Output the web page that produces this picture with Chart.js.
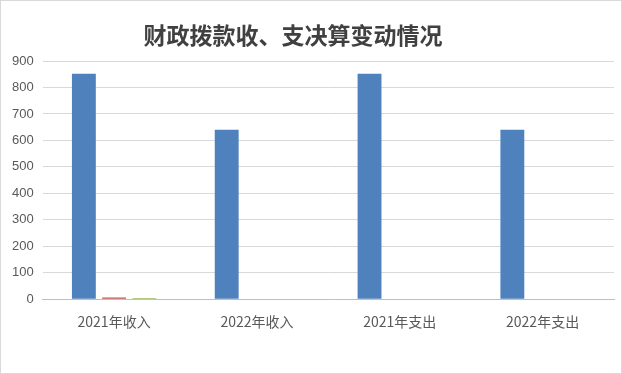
<!DOCTYPE html>
<html>
<head>
<meta charset="utf-8">
<script src="https://cdn.jsdelivr.net/npm/chart.js@4"></script>
<style>
  html, body { margin: 0; padding: 0; background: #fff; }
  #wrap { position: relative; width: 620px; height: 372px; border: 1px solid #d9d9d9; }
</style>
</head>
<body>
<div id="wrap"><canvas id="chart"></canvas></div>
<script>
const categories = ['2021年收入', '2022年收入', '2021年支出', '2022年支出'];
const seriesA = [852, 640, 852, 640];
const seriesB = [6, 0, 0, 0];
const seriesC = [5, 0, 0, 0];
const yTicks = [0, 100, 200, 300, 400, 500, 600, 700, 800, 900];
const chartTitle = '财政拨款收、支决算变动情况';

const font = "'Noto Sans CJK SC', 'Liberation Sans', sans-serif";

// title sits a bit left of centre in the original, so draw it ourselves
const titlePlugin = {
  id: 'offsetTitle',
  afterDraw(chart) {
    const ctx = chart.ctx;
    ctx.save();
    ctx.font = `bold 23px ${font}`;
    ctx.fillStyle = '#404040';
    ctx.textAlign = 'center';
    ctx.textBaseline = 'middle';
    ctx.fillText(chartTitle, 292, 34);
    ctx.restore();
  }
};

new Chart(document.getElementById('chart'), {
  type: 'bar',
  data: {
    labels: categories,
    datasets: [
      { label: '系列1', data: seriesA, backgroundColor: '#4f81bd', categoryPercentage: 0.635, barPercentage: 0.79 },
      { label: '系列2', data: seriesB, backgroundColor: '#c0504d', categoryPercentage: 0.635, barPercentage: 0.79 },
      { label: '系列3', data: seriesC, backgroundColor: '#9bbb59', categoryPercentage: 0.635, barPercentage: 0.79 }
    ]
  },
  plugins: [titlePlugin],
  options: {
    responsive: true,
    maintainAspectRatio: false,
    animation: false,
    layout: { padding: { left: 2, right: 7, top: 60, bottom: 37 } },
    plugins: {
      legend: { display: false },
      tooltip: { enabled: false },
      title: { display: false }
    },
    scales: {
      x: {
        grid: { display: false },
        border: { color: '#bfbfbf' },
        ticks: { color: '#595959', font: { family: font, size: 14 }, padding: 6 }
      },
      y: {
        min: 0,
        max: 900,
        afterBuildTicks: axis => { axis.ticks = yTicks.map(v => ({ value: v })); },
        grid: { color: '#d9d9d9', drawTicks: false },
        border: { display: false },
        ticks: { color: '#595959', font: { family: 'Liberation Sans, sans-serif', size: 13 }, padding: 9 }
      }
    }
  }
});
</script>
</body>
</html>
